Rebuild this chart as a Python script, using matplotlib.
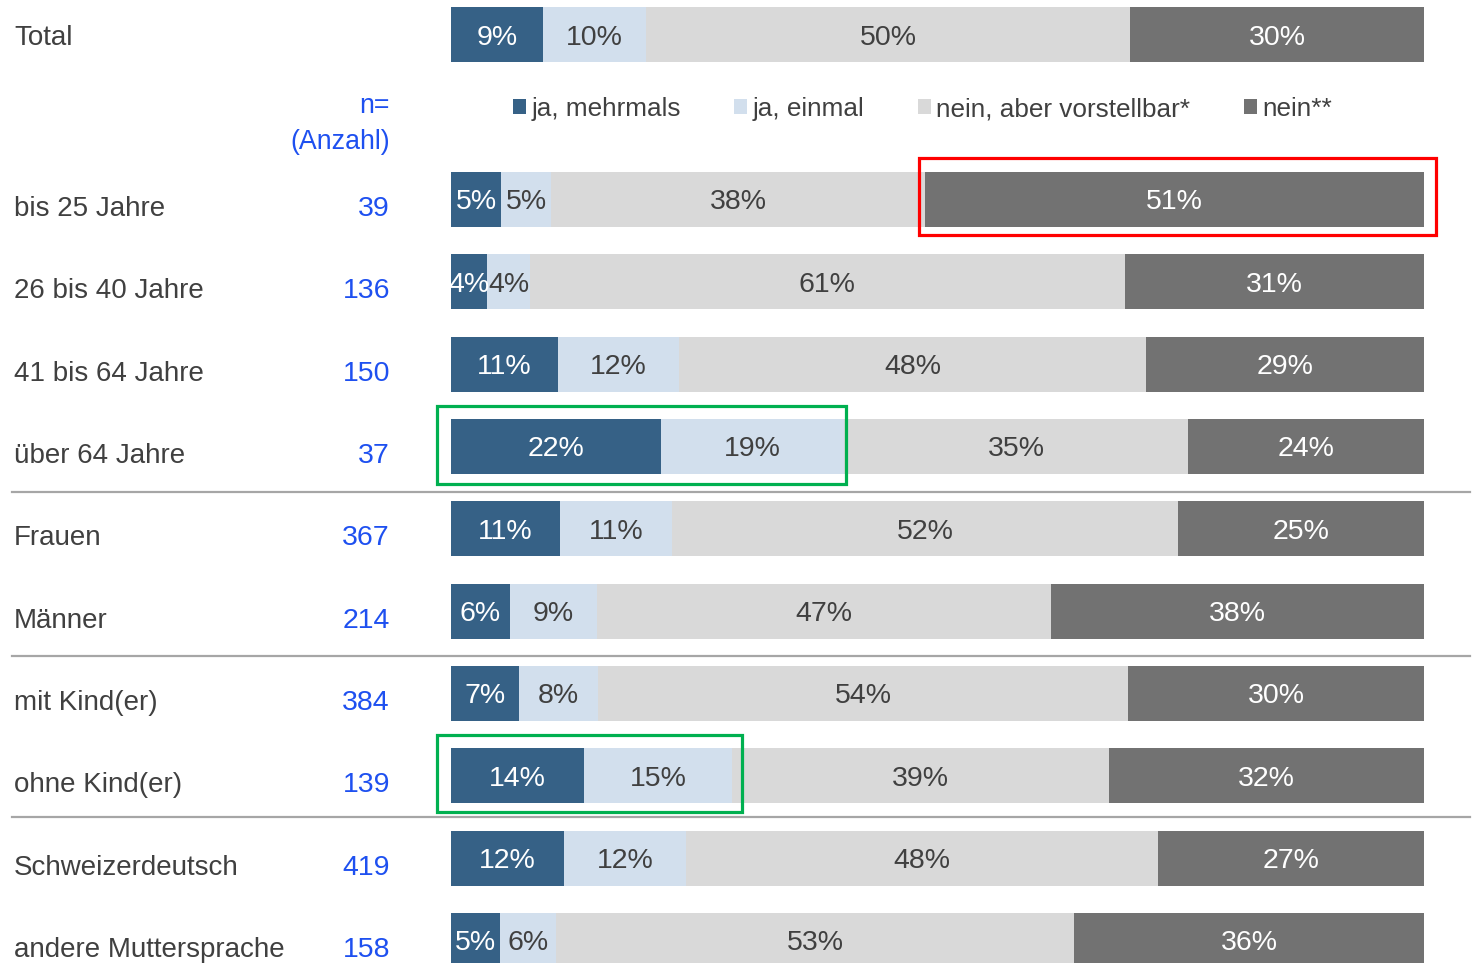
import numpy as np
import matplotlib
matplotlib.use("Agg")
import matplotlib.pyplot as plt
from matplotlib.patches import Rectangle

plt.rcParams["font.family"] = ["Liberation Sans", "DejaVu Sans"]

# ---- data ----
categories = ["Total", "bis 25 Jahre", "26 bis 40 Jahre", "41 bis 64 Jahre", "über 64 Jahre",
              "Frauen", "Männer", "mit Kind(er)", "ohne Kind(er)",
              "Schweizerdeutsch", "andere Muttersprache"]
n_counts = ["", "39", "136", "150", "37", "367", "214", "384", "139", "419", "158"]
row_pos = [0, 2, 3, 4, 5, 6, 7, 8, 9, 10, 11]

series_names = ["ja, mehrmals", "ja, einmal", "nein, aber vorstellbar*", "nein**"]
ja_mehrmals = [9.46, 5.14, 3.70, 11.00, 21.58, 11.20, 6.06, 6.99, 13.67, 11.61, 5.04]
ja_einmal = [10.58, 5.14, 4.42, 12.43, 18.81, 11.51, 8.94, 8.12, 15.21, 12.54, 5.75]
nein_vorstellbar = [49.74, 38.44, 61.10, 48.00, 35.36, 52.01, 46.66, 54.47, 38.75, 48.51, 53.24]
nein = [30.22, 51.29, 30.78, 28.57, 24.25, 25.28, 38.34, 30.42, 32.37, 27.34, 35.97]

lab_mehrmals = [9, 5, 4, 11, 22, 11, 6, 7, 14, 12, 5]
lab_einmal = [10, 5, 4, 12, 19, 11, 9, 8, 15, 12, 6]
lab_vorstellbar = [50, 38, 61, 48, 35, 52, 47, 54, 39, 48, 53]
lab_nein = [30, 51, 31, 29, 24, 25, 38, 30, 32, 27, 36]

colors = ["#366186", "#d2dfed", "#d9d9d9", "#727272"]
text_colors = ["white", "#404040", "#404040", "white"]
dark_text = "#404040"
blue_text = "#1e50f0"

# ---- layout (pixel based) ----
W, H = 1472, 963
bar_x0, bar_x1 = 451, 1424
px_per_pct = (bar_x1 - bar_x0) / 100
row0_px, row_step = 34.8, 82.33
bar_h = 0.668


def px2x(px):
    return (px - bar_x0) / px_per_pct


def py2y(py):
    return (py - row0_px) / row_step


fig = plt.figure(figsize=(W / 100, H / 100), dpi=100)
ax = fig.add_axes([0, 0, 1, 1])
ax.set_xlim(px2x(0), px2x(W))
ax.set_ylim(py2y(H), py2y(0))
ax.axis("off")

values = np.array([ja_mehrmals, ja_einmal, nein_vorstellbar, nein])
labels = np.array([lab_mehrmals, lab_einmal, lab_vorstellbar, lab_nein])

left = np.zeros(len(categories))
bars = []
for i in range(4):
    b = ax.barh(row_pos, values[i], left=left, height=bar_h, color=colors[i],
                label=series_names[i], zorder=2)
    bars.append(b)
    for y, l, v, lab in zip(row_pos, left, values[i], labels[i]):
        ax.text(l + v / 2, y, f"{lab}%", ha="center", va="center_baseline",
                fontsize=20.5, color=text_colors[i], zorder=3)
    left = left + values[i]

# row labels and n
for k, (cat, n) in enumerate(zip(categories, n_counts)):
    y = row_pos[k] + (0 if k == 0 else 0.079)
    ax.text(px2x(14), y, cat, ha="left", va="center_baseline", fontsize=20, color=dark_text)
    if n:
        ax.text(px2x(390), y, n, ha="right", va="center_baseline", fontsize=20.5, color=blue_text)

ax.text(px2x(390), py2y(113), "n=", ha="right", va="baseline", fontsize=19.3, color=blue_text)
ax.text(px2x(390), py2y(149), "(Anzahl)", ha="right", va="baseline", fontsize=19.3, color=blue_text)

# group separators
for sp in [491.5, 655.7, 817]:
    ax.plot([px2x(12), px2x(1470)], [py2y(sp)] * 2, color="#a6a6a6", lw=1.6, zorder=1)


# highlight boxes
def highlight(cat, first, last, color, pad):
    i = categories.index(cat)
    start = values[:first, i].sum()
    end = values[:last + 1, i].sum()
    y = row_pos[i]
    x0 = start - pad[0] / px_per_pct
    x1 = end + pad[1] / px_per_pct
    y0 = y - bar_h / 2 - pad[2] / row_step
    y1 = y + bar_h / 2 + pad[3] / row_step
    ax.add_patch(Rectangle((x0, y0), x1 - x0, y1 - y0, fill=False, ec=color, lw=2.3, zorder=5))


highlight("bis 25 Jahre", 3, 3, "#ff0000", (6, 12, 14, 8))
highlight("über 64 Jahre", 0, 1, "#00b050", (14, 2, 13, 10))
highlight("ohne Kind(er)", 0, 1, "#00b050", (14, 10, 13, 9))

leg = ax.legend(handles=bars, loc="center left", bbox_to_anchor=(513 / W, 1 - 109 / H),
                bbox_transform=fig.transFigure, ncol=4, frameon=False, fontsize=18.8,
                handlelength=0.5, handleheight=0.5, handletextpad=0.2, columnspacing=2.05,
                borderpad=0, borderaxespad=0, labelcolor=dark_text)

fig.savefig("out.png", dpi=100)
